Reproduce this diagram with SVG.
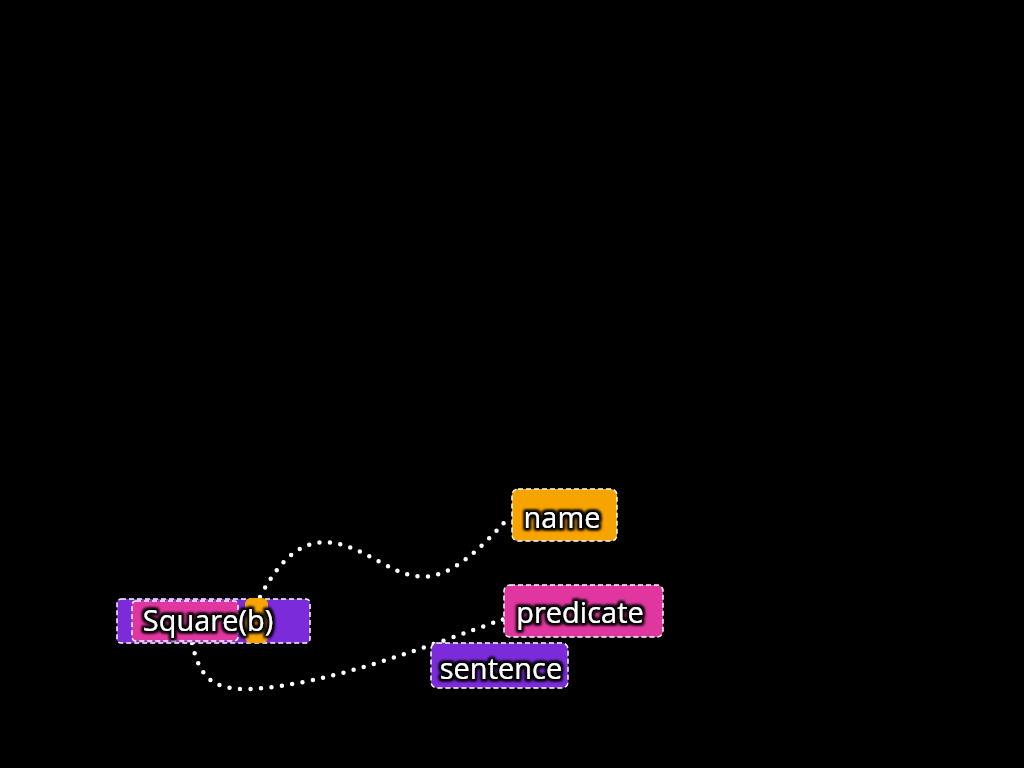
<svg xmlns="http://www.w3.org/2000/svg" width="1024" height="768" viewBox="0 0 1024 768">
<defs>
<filter id="glow" x="-20%" y="-40%" width="140%" height="180%">
<feMorphology in="SourceAlpha" operator="dilate" radius="2" result="d"/>
<feGaussianBlur in="d" stdDeviation="1.8" result="b"/>
<feFlood flood-color="#000"/>
<feComposite in2="b" operator="in" result="s"/>
<feMerge><feMergeNode in="s"/><feMergeNode in="s"/><feMergeNode in="SourceGraphic"/></feMerge>
</filter>
</defs>
<style>
.box{stroke:#fff;stroke-width:1.5;stroke-dasharray:5 3}
.sent{fill:#7b2bd9}
.pred{fill:#e0369f}
.name{fill:#f7a400}
.lbl{font-family:"Open Sans","Noto Sans",sans-serif;font-size:29px;fill:#fff;text-anchor:middle;filter:url(#glow)}
.conn{fill:none;stroke:#fff;stroke-width:4.5;stroke-linecap:round;stroke-dasharray:0 10.5}
</style>
<rect width="1024" height="768" fill="#000"/>
<g id="connectors">
<path class="conn" d="M 260 597 C 300 520, 340 540, 380 562 S 445 590, 510 516"/>
<path class="conn" d="M 192 643 C 200 680, 215 690, 250 689 C 330 685, 430 645, 504 619"/>
</g>
<g id="node-square-b">
<rect class="box sent" x="117" y="599" width="193" height="44" rx="4"/>
<rect class="box pred" x="132" y="601" width="106" height="40" rx="4"/>
<rect class="name" x="245" y="598" width="23" height="45" rx="6"/>
<text class="lbl" x="208" y="631">Square(b)</text>
</g>
<g id="node-name">
<rect class="box name" x="512" y="489" width="105" height="52" rx="6"/>
<text class="lbl" x="562" y="528">name</text>
</g>
<g id="node-predicate">
<rect class="box pred" x="504" y="585" width="159" height="52" rx="6"/>
<text class="lbl" x="580" y="623">predicate</text>
</g>
<g id="node-sentence">
<rect class="box sent" x="431" y="643" width="137" height="45" rx="6"/>
<text class="lbl" x="501" y="679">sentence</text>
</g>
</svg>
